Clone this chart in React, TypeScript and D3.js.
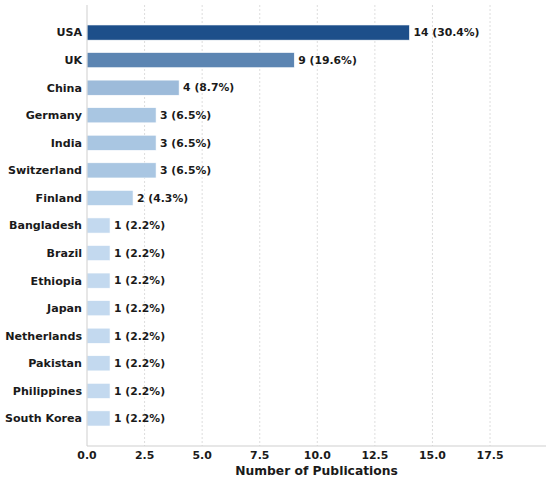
import { useEffect, useRef } from "react";
import * as d3 from "d3";

const countries = [
  "USA", "UK", "China", "Germany", "India", "Switzerland", "Finland",
  "Bangladesh", "Brazil", "Ethiopia", "Japan", "Netherlands", "Pakistan",
  "Philippines", "South Korea",
];
const counts = [14, 9, 4, 3, 3, 3, 2, 1, 1, 1, 1, 1, 1, 1, 1];
const shares = [30.4, 19.6, 8.7, 6.5, 6.5, 6.5, 4.3, 2.2, 2.2, 2.2, 2.2, 2.2, 2.2, 2.2, 2.2];
const barColors = [
  "#1d4f8a", "#5c85b2", "#9dbbda", "#a9c6e2", "#a9c6e2", "#a9c6e2", "#b4cfe8",
  "#c3d9ef", "#c3d9ef", "#c3d9ef", "#c3d9ef", "#c3d9ef", "#c3d9ef", "#c3d9ef", "#c3d9ef",
];
const xTicks = [0, 2.5, 5, 7.5, 10, 12.5, 15, 17.5];

const W = 550;
const H = 481;
const margin = { top: 5, right: 4, bottom: 35, left: 87 };
const font = "'DejaVu Sans', sans-serif";

export default function App() {
  const svgRef = useRef<SVGSVGElement>(null);

  useEffect(() => {
    const svg = d3.select(svgRef.current!);
    svg.selectAll("*").remove();

    const x = d3.scaleLinear().domain([0, 19.93]).range([margin.left, W - margin.right]);
    // matplotlib-like y: ylim from -1 to n (inverted), bars centred on integers
    const y = d3
      .scaleLinear()
      .domain([-1, countries.length])
      .range([margin.top, H - margin.bottom]);
    const bh = (y(1) - y(0)) * 0.55;

    // gridlines
    svg
      .append("g")
      .selectAll("line")
      .data(xTicks.filter((t) => t > 0))
      .join("line")
      .attr("x1", (d) => x(d))
      .attr("x2", (d) => x(d))
      .attr("y1", margin.top)
      .attr("y2", H - margin.bottom)
      .attr("stroke", "#d4d4d4")
      .attr("stroke-width", 0.8)
      .attr("stroke-dasharray", "2,2");

    // bars
    svg
      .append("g")
      .selectAll("rect")
      .data(countries)
      .join("rect")
      .attr("x", x(0))
      .attr("y", (_d, i) => y(i) - bh / 2)
      .attr("width", (_d, i) => x(counts[i]) - x(0))
      .attr("height", bh)
      .attr("fill", (_d, i) => barColors[i])
      .attr("stroke", "#fff")
      .attr("stroke-width", 0.6);

    // value labels
    svg
      .append("g")
      .selectAll("text")
      .data(countries)
      .join("text")
      .attr("x", (_d, i) => x(counts[i]) + 4)
      .attr("y", (_d, i) => y(i))
      .attr("dy", "0.35em")
      .attr("font-family", font)
      .attr("font-weight", "bold")
      .attr("font-size", 10.8)
      .attr("fill", "#1a1a1a")
      .text((_d, i) => `${counts[i]} (${shares[i].toFixed(1)}%)`);

    // category labels
    svg
      .append("g")
      .selectAll("text")
      .data(countries)
      .join("text")
      .attr("x", margin.left - 5)
      .attr("y", (_d, i) => y(i))
      .attr("dy", "0.35em")
      .attr("text-anchor", "end")
      .attr("font-family", font)
      .attr("font-weight", "bold")
      .attr("font-size", 11.1)
      .attr("fill", "#1a1a1a")
      .text((d) => d);

    // spines
    svg
      .append("line")
      .attr("x1", margin.left)
      .attr("x2", margin.left)
      .attr("y1", margin.top)
      .attr("y2", H - margin.bottom)
      .attr("stroke", "#cfcfcf")
      .attr("stroke-width", 1);
    svg
      .append("line")
      .attr("x1", margin.left)
      .attr("x2", W - margin.right)
      .attr("y1", H - margin.bottom)
      .attr("y2", H - margin.bottom)
      .attr("stroke", "#cfcfcf")
      .attr("stroke-width", 1);

    // x tick labels
    svg
      .append("g")
      .selectAll("text")
      .data(xTicks)
      .join("text")
      .attr("x", (d) => x(d))
      .attr("y", H - margin.bottom + 13)
      .attr("text-anchor", "middle")
      .attr("font-family", font)
      .attr("font-weight", "bold")
      .attr("font-size", 10.9)
      .attr("fill", "#1a1a1a")
      .text((d) => d.toFixed(1));

    // x axis title
    svg
      .append("text")
      .attr("x", (x.range()[0] + x.range()[1]) / 2)
      .attr("y", H - 6)
      .attr("text-anchor", "middle")
      .attr("font-family", font)
      .attr("font-weight", "bold")
      .attr("font-size", 12.3)
      .attr("fill", "#1a1a1a")
      .text("Number of Publications");
  }, []);

  return (
    <svg
      ref={svgRef}
      width={W}
      height={H}
      style={{ position: "absolute", left: 0, top: 0, background: "#fff" }}
    />
  );
}
